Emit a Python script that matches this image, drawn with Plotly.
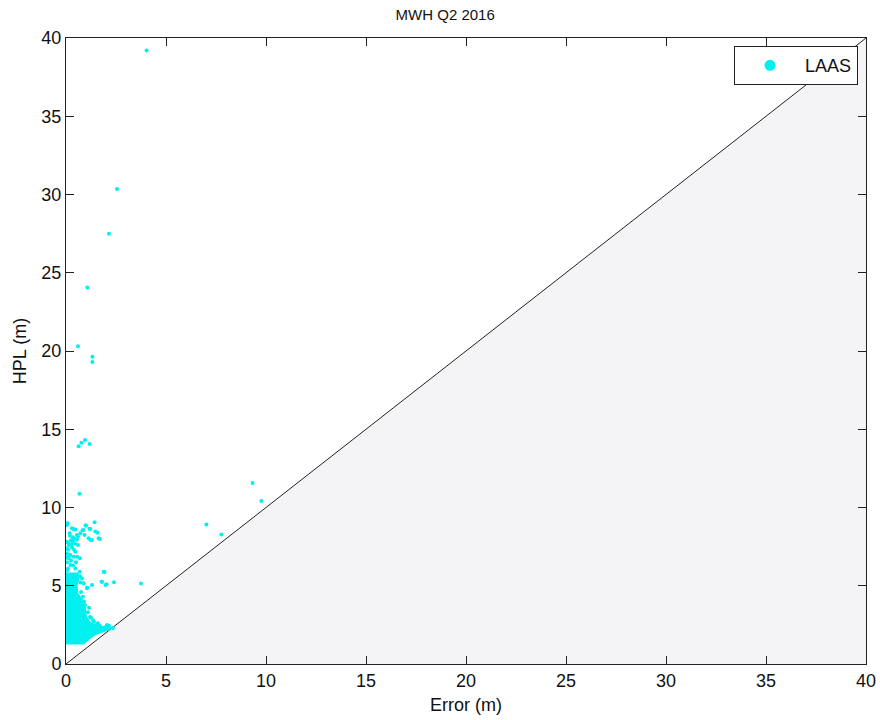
import plotly.graph_objects as go

# Isolated LAAS samples: horizontal error (m) vs HPL (m)
err_pts = [4.03, 2.55, 2.15, 1.07, 0.60, 1.32, 1.32, 0.63, 0.77, 0.95, 1.18, 0.67,
           9.33, 9.77, 7.02, 7.77, 3.75, 1.93, 1.78, 2.03, 2.40, 1.07, 1.05, 1.30,
           1.80, 1.97, 0.80, 0.88,
           1.43, 0.98, 1.17, 0.83, 1.58, 1.70, 1.23, 0.37, 0.08, 0.05, 0.30, 0.47,
           0.88, 1.00, 1.22, 1.47, 1.63, 1.30, 1.13, 0.93, 0.72, 0.55, 0.05, 0.47,
           0.22, 0.05, 0.55, 0.70, 0.13, 0.38, 0.22, 0.47, 0.05, 1.88,
           0.05, 0.15, 0.25, 0.35, 0.45, 0.20, 0.10, 0.30, 0.40, 0.15, 0.55, 0.60,
           0.05, 0.25, 0.10, 0.35, 0.50, 0.05, 0.12, 0.28, 0.42, 0.60, 0.18, 0.33,
           0.75, 0.70, 0.90, 1.10, 1.20, 1.35, 1.60, 1.70, 2.05, 2.35, 1.10, 0.68,
           0.85, 1.15, 1.25, 1.40, 1.55, 1.95, 2.15, 0.72, 0.95]
hpl_pts = [39.2, 30.35, 27.5, 24.05, 20.3, 19.64, 19.3, 13.91, 14.14, 14.31, 14.06, 10.88,
           11.57, 10.42, 8.92, 8.28, 5.15, 5.88, 5.26, 5.09, 5.22, 4.88, 4.84, 5.05,
           5.26, 5.05, 5.47, 5.16,
           9.05, 8.86, 8.65, 8.54, 8.39, 7.99, 7.92, 8.62, 8.99, 8.88, 8.67, 8.60,
           8.56, 8.84, 8.63, 8.46, 8.03, 7.92, 8.03, 8.24, 8.35, 8.24, 7.39, 7.18,
           6.97, 6.80, 6.86, 6.75, 6.75, 6.86, 6.33, 6.11, 5.97, 5.90,
           7.80, 7.60, 7.90, 8.10, 7.70, 8.20, 7.30, 7.45, 7.30, 7.00, 7.95, 8.15,
           6.50, 6.60, 6.10, 6.30, 6.50, 7.05, 7.75, 7.65, 8.00, 7.60, 8.35, 7.85,
           4.60, 5.60, 4.00, 3.30, 3.00, 2.80, 2.60, 2.45, 2.50, 2.30, 1.80, 5.90,
           4.30, 3.60, 2.95, 2.70, 2.55, 2.35, 2.45, 5.20, 3.75]

# Outline of the dense core of the sample cloud
core_err = [0.00, 0.00, 0.63, 0.66, 0.58, 0.62, 0.80, 0.97, 1.00, 1.05, 1.22, 1.47,
            1.88, 2.25, 2.28, 1.90, 1.50, 1.20, 0.90, 0.13]
core_hpl = [1.25, 5.85, 5.85, 5.40, 5.00, 4.50, 4.20, 3.90, 3.50, 3.00, 2.72, 2.52,
            2.42, 2.38, 2.20, 2.05, 1.85, 1.60, 1.25, 1.25]

# Axis limits and ticks
x_range = [0, 40]
y_range = [0, 40]
tick_vals = [0, 5, 10, 15, 20, 25, 30, 35, 40]

cyan = "#00f0f0"
font_family = "Liberation Sans, Arial, sans-serif"

fig = go.Figure()

# y = x reference line, with the region below it shaded
fig.add_trace(go.Scatter(
    x=x_range, y=y_range, mode="lines",
    line=dict(color="#222222", width=1),
    fill="tozeroy", fillcolor="#f4f4f6",
    showlegend=False, hoverinfo="skip",
))

fig.add_trace(go.Scatter(
    x=core_err, y=core_hpl, mode="lines", fill="toself",
    fillcolor=cyan, line=dict(width=0, color=cyan),
    showlegend=False, hoverinfo="skip",
))

fig.add_trace(go.Scatter(
    x=err_pts, y=hpl_pts, mode="markers",
    marker=dict(color=cyan, size=4, line=dict(width=0)),
    showlegend=False,
))

# legend entry
fig.add_trace(go.Scatter(
    x=[None], y=[None], mode="markers", name="LAAS",
    marker=dict(color=cyan, size=11),
))

axis_common = dict(
    tickvals=tick_vals, ticks="inside", ticklen=8, tickwidth=1, tickcolor="#222222",
    showline=True, linecolor="#222222", linewidth=1, mirror="allticks",
    showgrid=False, zeroline=False, automargin=False,
    tickfont=dict(family=font_family, size=18, color="#111111"),
)

fig.update_layout(
    width=880, height=720,
    margin=dict(l=66, r=14, t=38, b=56),
    paper_bgcolor="white", plot_bgcolor="white",
    font=dict(family=font_family, color="#111111"),
    title=dict(text="MWH Q2 2016", x=0.474, xref="paper", y=0.979, yref="container",
               xanchor="center", yanchor="middle",
               font=dict(family=font_family, size=15, color="#111111")),
    xaxis=dict(range=x_range, title=dict(text="Error (m)", standoff=8,
               font=dict(family=font_family, size=18)), **axis_common),
    yaxis=dict(range=y_range, title=dict(text="HPL (m)", standoff=10,
               font=dict(family=font_family, size=18)), **axis_common),
    legend=dict(x=0.99, y=0.987, xanchor="right", yanchor="top",
                bgcolor="white", bordercolor="#222222", borderwidth=1,
                font=dict(family=font_family, size=18), itemwidth=60),
)

fig.write_html("out.html")
